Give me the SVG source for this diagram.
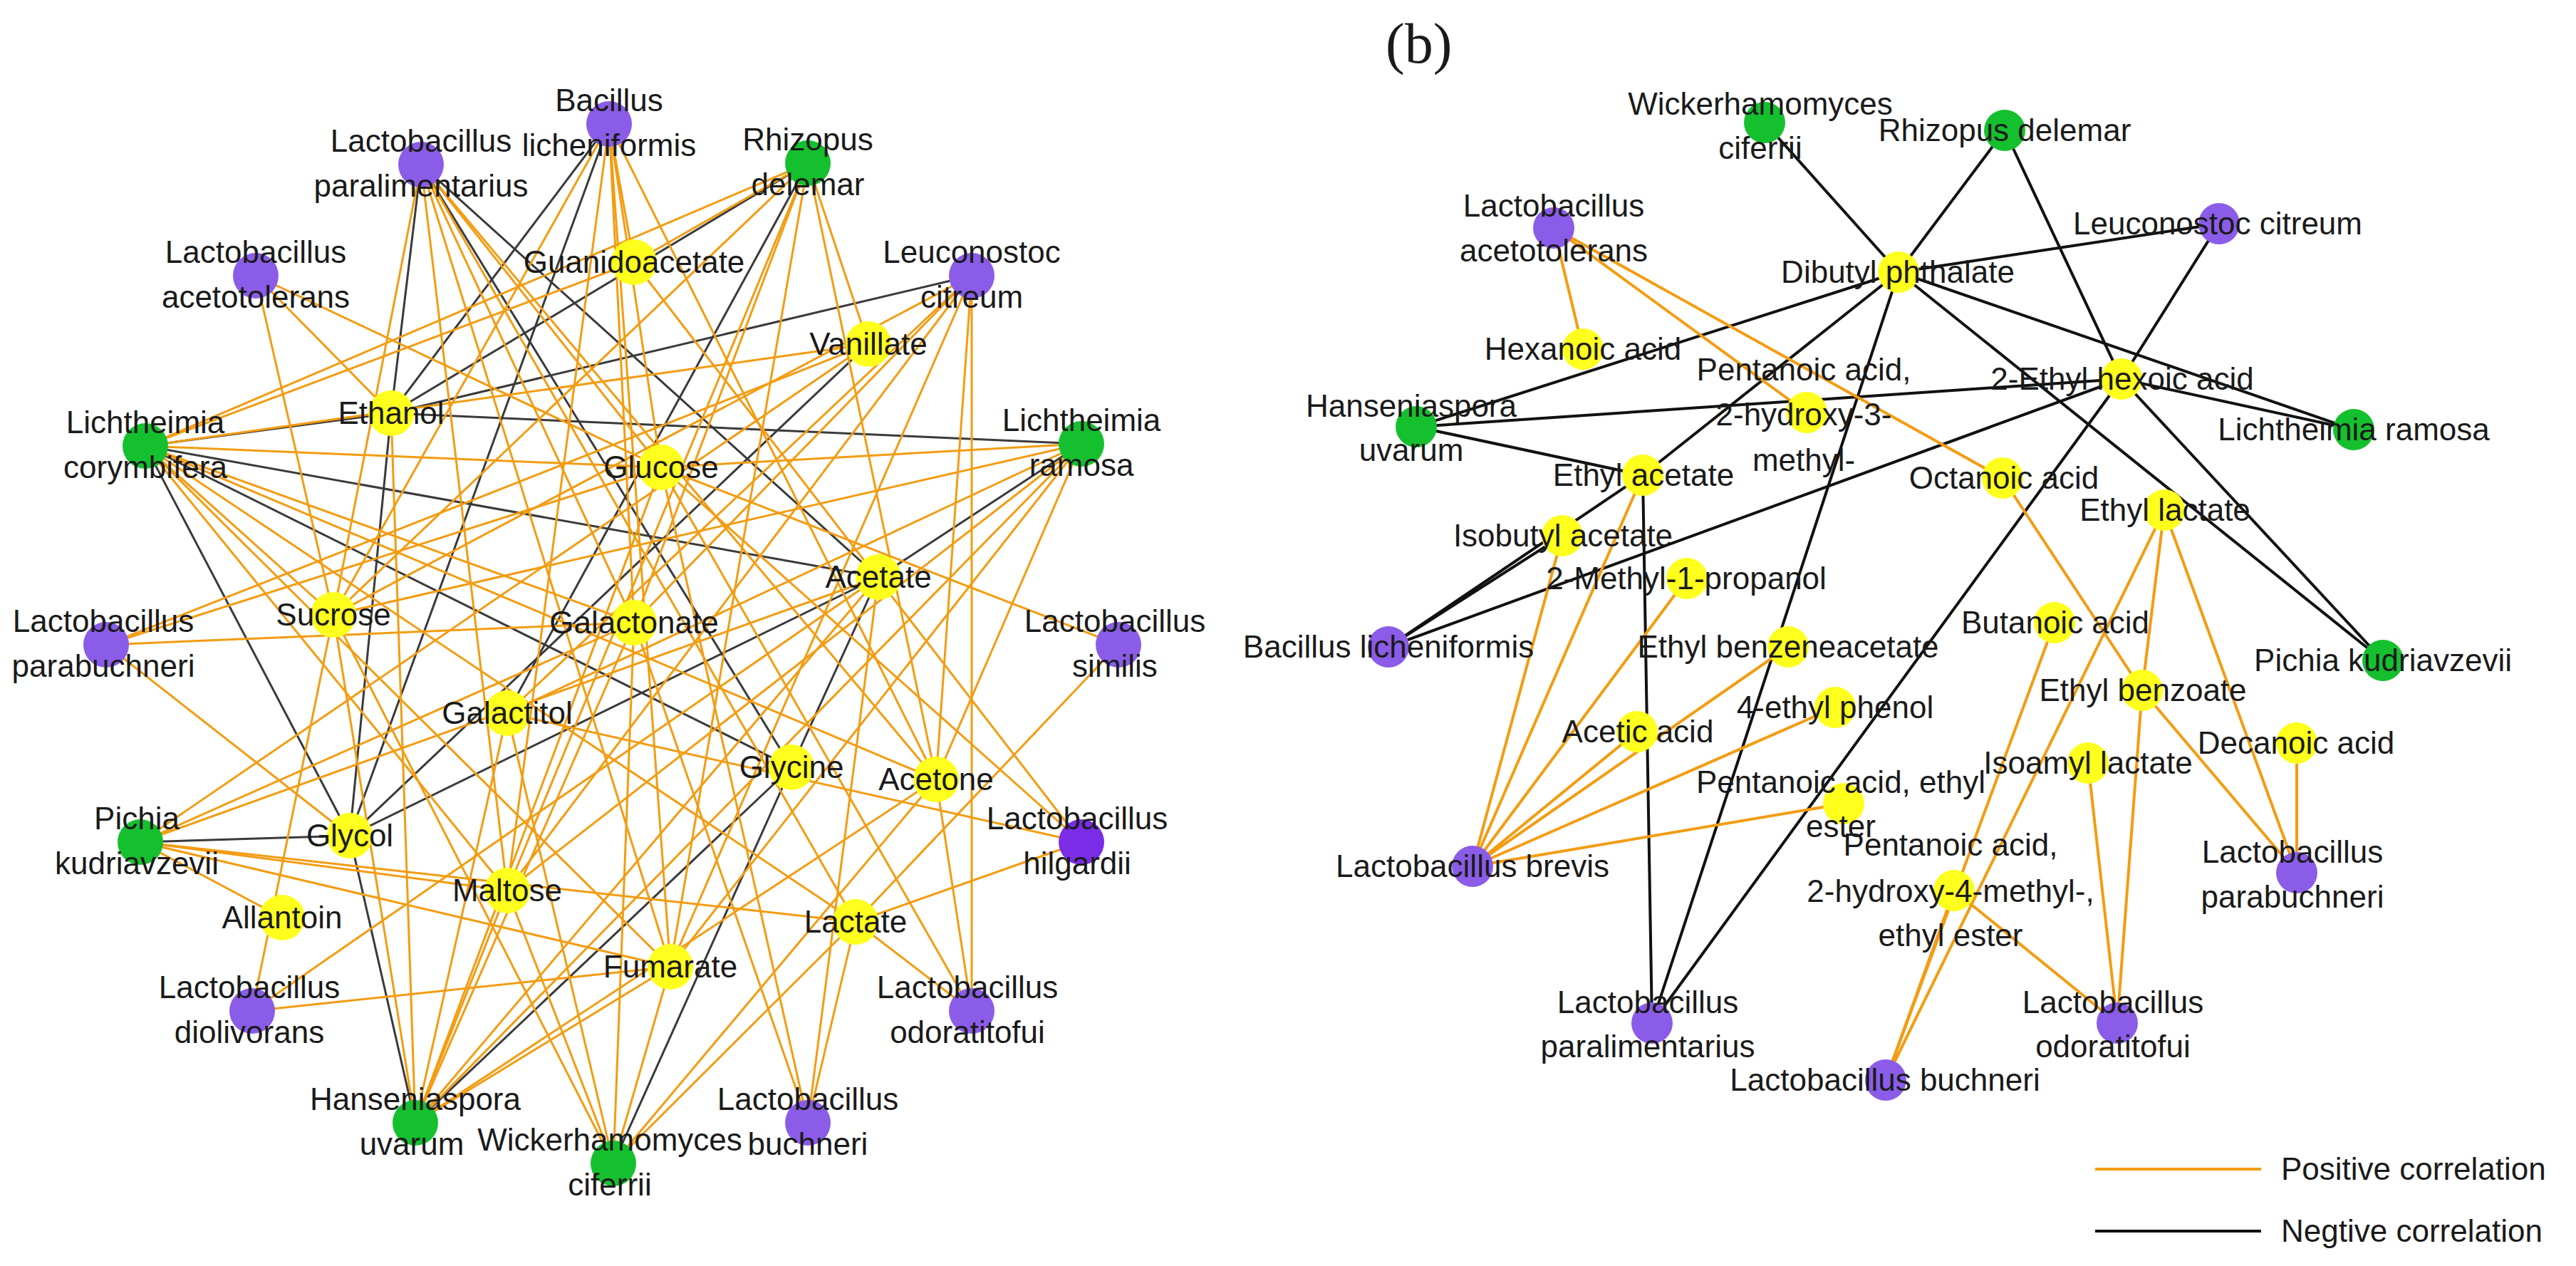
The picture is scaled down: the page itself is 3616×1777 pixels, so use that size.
<svg xmlns="http://www.w3.org/2000/svg" width="3616" height="1777" viewBox="0 0 3616 1777">
<style>
text{font-family:"Liberation Sans",Arial,sans-serif;font-size:44px;fill:#1a1a1a;text-anchor:middle}
.t{font-family:"Liberation Serif","Times New Roman",serif;font-size:80px;text-anchor:start}
.lg{text-anchor:start}
.p{stroke:#F39C12;stroke-width:3}
.n{stroke:#3a3a3a;stroke-width:3}
.p2{stroke:#F39C12;stroke-width:4}
.n2{stroke:#111;stroke-width:4}
.m{fill:#FFFF1E}.g{fill:#15C02E}.v{fill:#8A5CE8}.vd{fill:#7A2CE6}
</style>
<text class="t" x="1945" y="88">(b)</text>
<g id="connectors">
<g class="n">
<line x1="591" y1="231" x2="549" y2="580"/><line x1="591" y1="231" x2="1111" y2="1077"/><line x1="591" y1="231" x2="1233" y2="810"/>
<line x1="855" y1="174" x2="549" y2="580"/><line x1="855" y1="174" x2="491" y2="1173"/><line x1="1134" y1="229" x2="549" y2="580"/>
<line x1="1134" y1="229" x2="712" y2="1001"/><line x1="1364" y1="387" x2="549" y2="580"/><line x1="549" y1="580" x2="1518" y2="623"/>
<line x1="204" y1="626" x2="549" y2="580"/><line x1="204" y1="626" x2="1233" y2="810"/><line x1="204" y1="626" x2="1111" y2="1077"/>
<line x1="204" y1="626" x2="491" y2="1173"/><line x1="197" y1="1182" x2="491" y2="1173"/><line x1="491" y1="1173" x2="1233" y2="810"/>
<line x1="491" y1="1173" x2="1219" y2="483"/><line x1="491" y1="1173" x2="583" y2="1576"/><line x1="1111" y1="1077" x2="583" y2="1576"/>
<line x1="1111" y1="1077" x2="861" y2="1633"/><line x1="1518" y1="623" x2="1233" y2="810"/><line x1="1233" y1="810" x2="1111" y2="1077"/>
<line x1="549" y1="580" x2="491" y2="1173"/>
</g>
<g class="p">
<line x1="855" y1="174" x2="890" y2="368"/><line x1="855" y1="174" x2="928" y2="656"/><line x1="855" y1="174" x2="890" y2="874"/><line x1="855" y1="174" x2="712" y2="1250"/><line x1="855" y1="174" x2="468" y2="863"/><line x1="855" y1="174" x2="1314" y2="1094"/><line x1="855" y1="174" x2="941" y2="1357"/>
<line x1="591" y1="231" x2="468" y2="863"/><line x1="591" y1="231" x2="928" y2="656"/><line x1="591" y1="231" x2="890" y2="874"/><line x1="591" y1="231" x2="712" y2="1250"/><line x1="591" y1="231" x2="941" y2="1357"/><line x1="591" y1="231" x2="1314" y2="1094"/><line x1="591" y1="231" x2="1201" y2="1294"/>
<line x1="1134" y1="229" x2="890" y2="368"/><line x1="1134" y1="229" x2="468" y2="863"/><line x1="1134" y1="229" x2="890" y2="874"/><line x1="1134" y1="229" x2="712" y2="1250"/><line x1="1134" y1="229" x2="941" y2="1357"/><line x1="1134" y1="229" x2="1314" y2="1094"/><line x1="1134" y1="229" x2="1219" y2="483"/><line x1="1134" y1="229" x2="204" y2="626"/>
<line x1="359" y1="387" x2="549" y2="580"/><line x1="359" y1="387" x2="928" y2="656"/><line x1="359" y1="387" x2="468" y2="863"/>
<line x1="1364" y1="387" x2="468" y2="863"/><line x1="1364" y1="387" x2="890" y2="874"/><line x1="1364" y1="387" x2="712" y2="1250"/><line x1="1364" y1="387" x2="712" y2="1001"/><line x1="1364" y1="387" x2="1314" y2="1094"/><line x1="1364" y1="387" x2="941" y2="1357"/><line x1="1364" y1="387" x2="1364" y2="1419"/>
<line x1="204" y1="626" x2="890" y2="368"/><line x1="204" y1="626" x2="928" y2="656"/><line x1="204" y1="626" x2="890" y2="874"/><line x1="204" y1="626" x2="712" y2="1250"/><line x1="204" y1="626" x2="941" y2="1357"/><line x1="204" y1="626" x2="1201" y2="1294"/><line x1="204" y1="626" x2="1314" y2="1094"/><line x1="204" y1="626" x2="1219" y2="483"/><line x1="204" y1="626" x2="468" y2="863"/>
<line x1="1518" y1="623" x2="468" y2="863"/><line x1="1518" y1="623" x2="712" y2="1001"/><line x1="1518" y1="623" x2="712" y2="1250"/><line x1="1518" y1="623" x2="941" y2="1357"/><line x1="1518" y1="623" x2="928" y2="656"/><line x1="1518" y1="623" x2="1314" y2="1094"/><line x1="1518" y1="623" x2="583" y2="1576"/>
<line x1="149" y1="905" x2="928" y2="656"/><line x1="149" y1="905" x2="1219" y2="483"/><line x1="149" y1="905" x2="491" y2="1173"/><line x1="149" y1="905" x2="890" y2="874"/>
<line x1="1570" y1="905" x2="1201" y2="1294"/><line x1="1570" y1="905" x2="928" y2="656"/>
<line x1="197" y1="1182" x2="1219" y2="483"/><line x1="197" y1="1182" x2="1233" y2="810"/><line x1="197" y1="1182" x2="890" y2="874"/><line x1="197" y1="1182" x2="396" y2="1288"/><line x1="197" y1="1182" x2="712" y2="1250"/><line x1="197" y1="1182" x2="941" y2="1357"/><line x1="197" y1="1182" x2="1201" y2="1294"/>
<line x1="1518" y1="1182" x2="712" y2="1001"/><line x1="1518" y1="1182" x2="890" y2="368"/><line x1="1518" y1="1182" x2="1201" y2="1294"/><line x1="1518" y1="1182" x2="928" y2="656"/>
<line x1="354" y1="1419" x2="468" y2="863"/><line x1="354" y1="1419" x2="941" y2="1357"/><line x1="354" y1="1419" x2="1233" y2="810"/>
<line x1="1364" y1="1419" x2="1314" y2="1094"/><line x1="1364" y1="1419" x2="1201" y2="1294"/><line x1="1364" y1="1419" x2="928" y2="656"/>
<line x1="583" y1="1576" x2="549" y2="580"/><line x1="583" y1="1576" x2="468" y2="863"/><line x1="583" y1="1576" x2="890" y2="874"/><line x1="583" y1="1576" x2="712" y2="1001"/><line x1="583" y1="1576" x2="1233" y2="810"/><line x1="583" y1="1576" x2="1314" y2="1094"/><line x1="583" y1="1576" x2="941" y2="1357"/><line x1="583" y1="1576" x2="712" y2="1250"/><line x1="583" y1="1576" x2="928" y2="656"/>
<line x1="861" y1="1633" x2="468" y2="863"/><line x1="861" y1="1633" x2="712" y2="1001"/><line x1="861" y1="1633" x2="890" y2="874"/><line x1="861" y1="1633" x2="712" y2="1250"/><line x1="861" y1="1633" x2="941" y2="1357"/><line x1="861" y1="1633" x2="1314" y2="1094"/><line x1="861" y1="1633" x2="1201" y2="1294"/>
<line x1="1134" y1="1576" x2="1233" y2="810"/><line x1="1134" y1="1576" x2="928" y2="656"/><line x1="1134" y1="1576" x2="890" y2="874"/><line x1="1134" y1="1576" x2="1201" y2="1294"/>
</g>
<g class="n2">
<line x1="2477" y1="172" x2="2665" y2="382"/><line x1="2814" y1="183" x2="2665" y2="382"/><line x1="2814" y1="183" x2="2978" y2="532"/>
<line x1="3115" y1="314" x2="2665" y2="382"/><line x1="3115" y1="314" x2="2978" y2="532"/><line x1="2665" y1="382" x2="1988" y2="599"/>
<line x1="2665" y1="382" x2="2306" y2="667"/><line x1="2306" y1="667" x2="1949" y2="908"/><line x1="2193" y1="752" x2="1949" y2="908"/>
<line x1="2665" y1="382" x2="2319" y2="1436"/><line x1="2665" y1="382" x2="3304" y2="603"/><line x1="2665" y1="382" x2="3345" y2="927"/>
<line x1="2978" y1="532" x2="3345" y2="927"/><line x1="2978" y1="532" x2="1988" y2="599"/><line x1="2978" y1="532" x2="3304" y2="603"/>
<line x1="2978" y1="532" x2="2319" y2="1436"/><line x1="2978" y1="532" x2="1949" y2="908"/><line x1="1988" y1="599" x2="2306" y2="667"/>
<line x1="2306" y1="667" x2="2319" y2="1436"/>
</g>
<g class="p2">
<line x1="2181" y1="320" x2="2222" y2="490"/><line x1="2181" y1="320" x2="2536" y2="579"/><line x1="2181" y1="320" x2="2811" y2="671"/>
<line x1="2811" y1="671" x2="3007" y2="969"/>
<line x1="2067" y1="1216" x2="2306" y2="667"/><line x1="2067" y1="1216" x2="2193" y2="752"/><line x1="2067" y1="1216" x2="2368" y2="812"/><line x1="2067" y1="1216" x2="2298" y2="1027"/><line x1="2067" y1="1216" x2="2510" y2="908"/><line x1="2067" y1="1216" x2="2576" y2="993"/><line x1="2067" y1="1216" x2="2588" y2="1128"/>
<line x1="3038" y1="716" x2="3007" y2="969"/><line x1="3038" y1="716" x2="3224" y2="1225"/><line x1="3038" y1="716" x2="2647" y2="1516"/>
<line x1="2884" y1="874" x2="2647" y2="1516"/><line x1="3007" y1="969" x2="3224" y2="1225"/><line x1="3007" y1="969" x2="2972" y2="1436"/>
<line x1="3224" y1="1043" x2="3224" y2="1225"/><line x1="2931" y1="1071" x2="2972" y2="1436"/><line x1="2743" y1="1250" x2="2972" y2="1436"/><line x1="2743" y1="1250" x2="2647" y2="1516"/>
</g>
</g>
<g id="left-nodes">
<g id="L_BacL"><circle cx="855" cy="174" r="32" class="v"/><text x="855" y="156">Bacillus</text><text x="855" y="219">licheniformis</text></g>
<g id="L_LPara"><circle cx="591" cy="231" r="32" class="v"/><text x="591" y="213">Lactobacillus</text><text x="591" y="276">paralimentarius</text></g>
<g id="L_Rhiz"><circle cx="1134" cy="229" r="32" class="g"/><text x="1134" y="211">Rhizopus</text><text x="1134" y="274">delemar</text></g>
<g id="L_LAceto"><circle cx="359" cy="387" r="32" class="v"/><text x="359" y="369">Lactobacillus</text><text x="359" y="432">acetotolerans</text></g>
<g id="L_Guan"><circle cx="890" cy="368" r="32" class="m"/><text x="890" y="383">Guanidoacetate</text></g>
<g id="L_Leuc"><circle cx="1364" cy="387" r="32" class="v"/><text x="1364" y="369">Leuconostoc</text><text x="1364" y="432">citreum</text></g>
<g id="L_Van"><circle cx="1219" cy="483" r="32" class="m"/><text x="1219" y="498">Vanillate</text></g>
<g id="L_Eth"><circle cx="549" cy="580" r="32" class="m"/><text x="549" y="595">Ethanol</text></g>
<g id="L_LCory"><circle cx="204" cy="626" r="32" class="g"/><text x="204" y="608">Lichtheimia</text><text x="204" y="671">corymbifera</text></g>
<g id="L_LRam"><circle cx="1518" cy="623" r="32" class="g"/><text x="1518" y="605">Lichtheimia</text><text x="1518" y="668">ramosa</text></g>
<g id="L_Glu"><circle cx="928" cy="656" r="32" class="m"/><text x="928" y="671">Glucose</text></g>
<g id="L_Acet"><circle cx="1233" cy="810" r="32" class="m"/><text x="1233" y="825">Acetate</text></g>
<g id="L_Suc"><circle cx="468" cy="863" r="32" class="m"/><text x="468" y="878">Sucrose</text></g>
<g id="L_Galn"><circle cx="890" cy="874" r="32" class="m"/><text x="890" y="889">Galactonate</text></g>
<g id="L_LParab"><circle cx="149" cy="905" r="32" class="v"/><text x="145" y="887">Lactobacillus</text><text x="145" y="950">parabuchneri</text></g>
<g id="L_LSim"><circle cx="1570" cy="905" r="32" class="v"/><text x="1565" y="887">Lactobacillus</text><text x="1565" y="950">similis</text></g>
<g id="L_Galt"><circle cx="712" cy="1001" r="32" class="m"/><text x="712" y="1016">Galactitol</text></g>
<g id="L_Gly"><circle cx="1111" cy="1077" r="32" class="m"/><text x="1111" y="1092">Glycine</text></g>
<g id="L_Acetone"><circle cx="1314" cy="1094" r="32" class="m"/><text x="1314" y="1109">Acetone</text></g>
<g id="L_Pich"><circle cx="197" cy="1182" r="32" class="g"/><text x="192" y="1164">Pichia</text><text x="192" y="1227">kudriavzevii</text></g>
<g id="L_Glycol"><circle cx="491" cy="1173" r="32" class="m"/><text x="491" y="1188">Glycol</text></g>
<g id="L_LHil"><circle cx="1518" cy="1182" r="32" class="vd"/><text x="1512" y="1164">Lactobacillus</text><text x="1512" y="1227">hilgardii</text></g>
<g id="L_Malt"><circle cx="712" cy="1250" r="32" class="m"/><text x="712" y="1265">Maltose</text></g>
<g id="L_Allan"><circle cx="396" cy="1288" r="32" class="m"/><text x="396" y="1303">Allantoin</text></g>
<g id="L_Lact"><circle cx="1201" cy="1294" r="32" class="m"/><text x="1201" y="1309">Lactate</text></g>
<g id="L_Fum"><circle cx="941" cy="1357" r="32" class="m"/><text x="941" y="1372">Fumarate</text></g>
<g id="L_LDio"><circle cx="354" cy="1419" r="32" class="v"/><text x="350" y="1401">Lactobacillus</text><text x="350" y="1464">diolivorans</text></g>
<g id="L_LOdo"><circle cx="1364" cy="1419" r="32" class="v"/><text x="1358" y="1401">Lactobacillus</text><text x="1358" y="1464">odoratitofui</text></g>
<g id="L_Hans"><circle cx="583" cy="1576" r="32" class="g"/><text x="583" y="1558">Hanseniaspora</text><text x="578" y="1621">uvarum</text></g>
<g id="L_Wick"><circle cx="861" cy="1633" r="32" class="g"/><text x="856" y="1615">Wickerhamomyces</text><text x="856" y="1678">ciferrii</text></g>
<g id="L_LBuch"><circle cx="1134" cy="1576" r="32" class="v"/><text x="1134" y="1558">Lactobacillus</text><text x="1134" y="1621">buchneri</text></g>
</g>
<g id="right-nodes">
<g id="R_Wick"><circle cx="2477" cy="172" r="29" class="g"/><text x="2471" y="161">Wickerhamomyces</text><text x="2471" y="223">ciferrii</text></g>
<g id="R_Rhiz"><circle cx="2814" cy="183" r="29" class="g"/><text x="2814" y="198">Rhizopus delemar</text></g>
<g id="R_LAceto"><circle cx="2181" cy="320" r="29" class="v"/><text x="2181" y="304">Lactobacillus</text><text x="2181" y="367">acetotolerans</text></g>
<g id="R_Leuc"><circle cx="3115" cy="314" r="29" class="v"/><text x="3113" y="329">Leuconostoc citreum</text></g>
<g id="R_Dib"><circle cx="2665" cy="382" r="29" class="m"/><text x="2664" y="397">Dibutyl phthalate</text></g>
<g id="R_Hex"><circle cx="2222" cy="490" r="29" class="m"/><text x="2222" y="505">Hexanoic acid</text></g>
<g id="R_P3"><circle cx="2536" cy="579" r="29" class="m"/><text x="2532" y="534">Pentanoic acid,</text><text x="2532" y="597">2-hydroxy-3-</text><text x="2532" y="661">methyl-</text></g>
<g id="R_EH"><circle cx="2978" cy="532" r="29" class="m"/><text x="2979" y="547">2-Ethyl hexoic acid</text></g>
<g id="R_Hans"><circle cx="1988" cy="599" r="29" class="g"/><text x="1981" y="585">Hanseniaspora</text><text x="1981" y="647">uvarum</text></g>
<g id="R_LRam"><circle cx="3304" cy="603" r="29" class="g"/><text x="3304" y="618">Lichtheimia ramosa</text></g>
<g id="R_EA"><circle cx="2306" cy="667" r="29" class="m"/><text x="2307" y="682">Ethyl acetate</text></g>
<g id="R_Oct"><circle cx="2811" cy="671" r="29" class="m"/><text x="2813" y="686">Octanoic acid</text></g>
<g id="R_EL"><circle cx="3038" cy="716" r="29" class="m"/><text x="3039" y="731">Ethyl lactate</text></g>
<g id="R_IBA"><circle cx="2193" cy="752" r="29" class="m"/><text x="2194" y="767">Isobutyl acetate</text></g>
<g id="R_MP"><circle cx="2368" cy="812" r="29" class="m"/><text x="2367" y="827">2-Methyl-1-propanol</text></g>
<g id="R_BacL"><circle cx="1949" cy="908" r="29" class="v"/><text x="1949" y="923">Bacillus licheniformis</text></g>
<g id="R_EBA"><circle cx="2510" cy="908" r="29" class="m"/><text x="2510" y="923">Ethyl benzeneacetate</text></g>
<g id="R_But"><circle cx="2884" cy="874" r="29" class="m"/><text x="2885" y="889">Butanoic acid</text></g>
<g id="R_Pich"><circle cx="3345" cy="927" r="29" class="g"/><text x="3345" y="942">Pichia kudriavzevii</text></g>
<g id="R_EB"><circle cx="3007" cy="969" r="29" class="m"/><text x="3008" y="984">Ethyl benzoate</text></g>
<g id="R_EP"><circle cx="2576" cy="993" r="29" class="m"/><text x="2576" y="1008">4-ethyl phenol</text></g>
<g id="R_AA"><circle cx="2298" cy="1027" r="29" class="m"/><text x="2299" y="1042">Acetic acid</text></g>
<g id="R_Dec"><circle cx="3224" cy="1043" r="29" class="m"/><text x="3223" y="1058">Decanoic acid</text></g>
<g id="R_IAL"><circle cx="2931" cy="1071" r="29" class="m"/><text x="2931" y="1086">Isoamyl lactate</text></g>
<g id="R_PEE"><circle cx="2588" cy="1128" r="29" class="m"/><text x="2584" y="1113">Pentanoic acid, ethyl</text><text x="2584" y="1175">ester</text></g>
<g id="R_LBrev"><circle cx="2067" cy="1216" r="29" class="v"/><text x="2067" y="1231">Lactobacillus brevis</text></g>
<g id="R_P4"><circle cx="2743" cy="1250" r="29" class="m"/><text x="2738" y="1201">Pentanoic acid,</text><text x="2738" y="1266">2-hydroxy-4-methyl-,</text><text x="2738" y="1328">ethyl ester</text></g>
<g id="R_LParab"><circle cx="3224" cy="1225" r="29" class="v"/><text x="3218" y="1211">Lactobacillus</text><text x="3218" y="1274">parabuchneri</text></g>
<g id="R_LPara"><circle cx="2319" cy="1436" r="29" class="v"/><text x="2313" y="1422">Lactobacillus</text><text x="2313" y="1484">paralimentarius</text></g>
<g id="R_LOdo"><circle cx="2972" cy="1436" r="29" class="v"/><text x="2966" y="1422">Lactobacillus</text><text x="2966" y="1484">odoratitofui</text></g>
<g id="R_LBuch"><circle cx="2647" cy="1516" r="29" class="v"/><text x="2646" y="1531">Lactobacillus buchneri</text></g>
</g>
<g id="legend">
<line x1="2941" y1="1641" x2="3174" y2="1641" class="p2"/>
<line x1="2941" y1="1728" x2="3174" y2="1728" class="n2"/>
<text class="lg" x="3202" y="1656">Positive correlation</text>
<text class="lg" x="3202" y="1743">Negtive correlation</text>
</g>
</svg>
